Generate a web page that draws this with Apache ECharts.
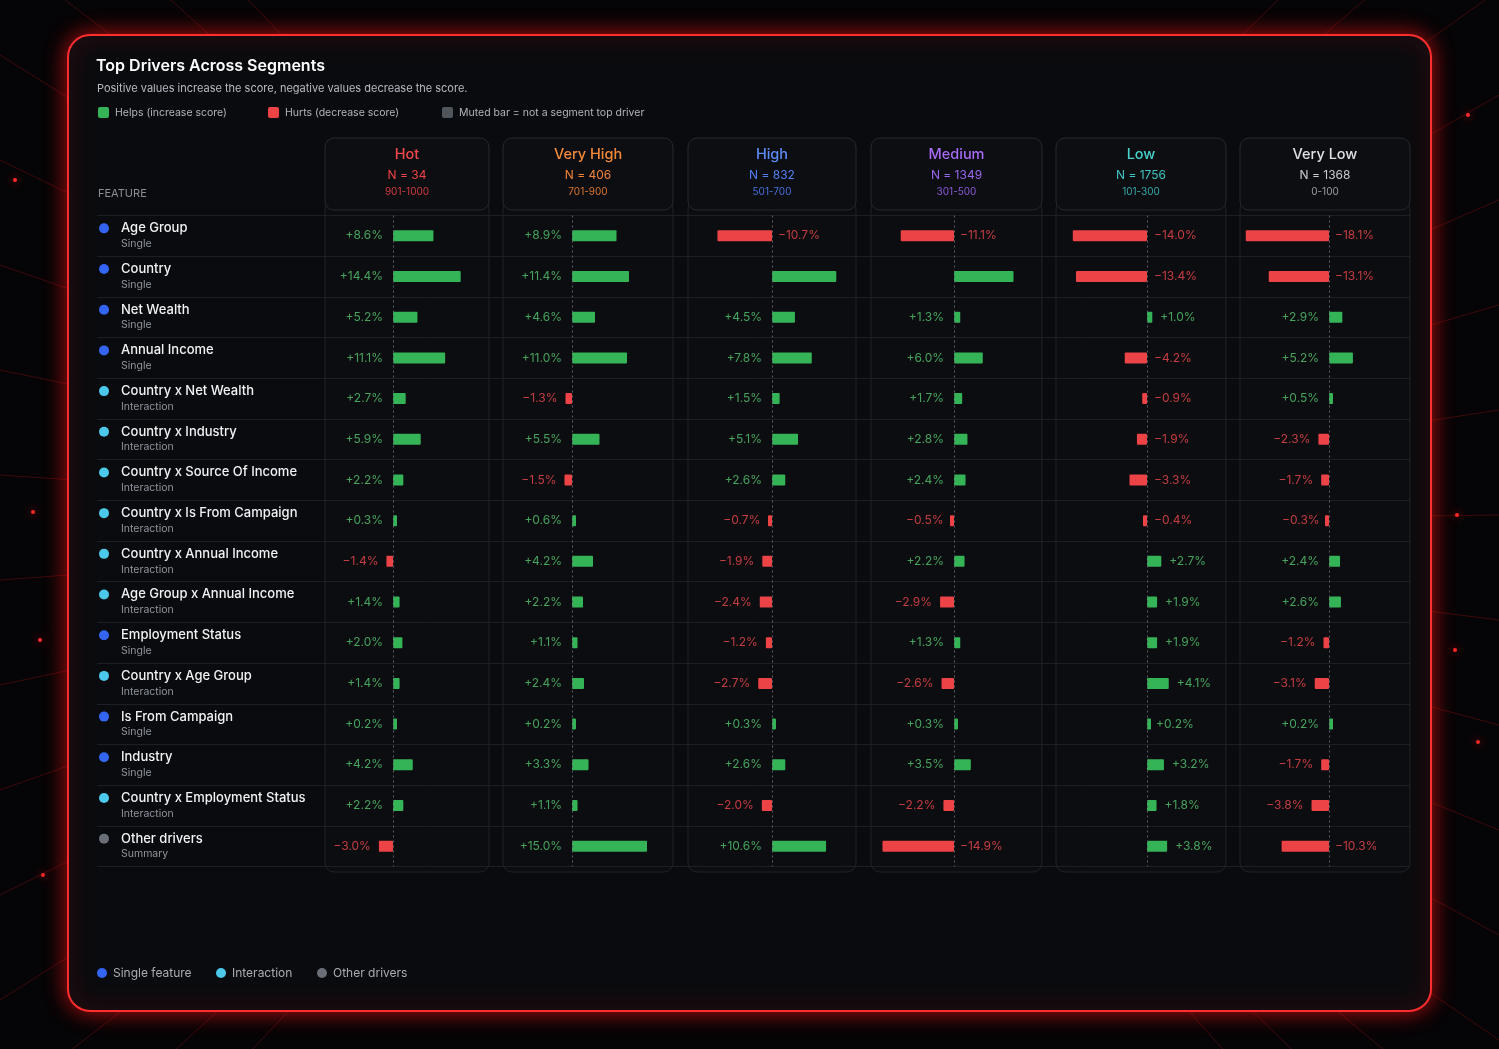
<!DOCTYPE html>
<html><head><meta charset="utf-8">
<script src="https://cdn.jsdelivr.net/npm/echarts@6/dist/echarts.min.js"></script>
<style>html,body{margin:0;padding:0;background:#050507;}#c{width:1499px;height:1049px;}</style>
</head><body><div id="c"></div>
<script>
// ---------- DATA ----------
const categories = ['Age Group','Country','Net Wealth','Annual Income','Country x Net Wealth','Country x Industry','Country x Source Of Income','Country x Is From Campaign','Country x Annual Income','Age Group x Annual Income','Employment Status','Country x Age Group','Is From Campaign','Industry','Country x Employment Status','Other drivers'];
const featureTypes = ['Single','Single','Single','Single','Interaction','Interaction','Interaction','Interaction','Interaction','Interaction','Single','Interaction','Single','Single','Interaction','Summary'];
const segmentNames = ['Hot','Very High','High','Medium','Low','Very Low'];
const segmentN = [34, 406, 832, 1349, 1756, 1368];
const segmentRanges = ['901-1000','701-900','501-700','301-500','101-300','0-100'];
const hot      = [8.6, 14.4, 5.2, 11.1, 2.7, 5.9, 2.2, 0.3, -1.4, 1.4, 2.0, 1.4, 0.2, 4.2, 2.2, -3.0];
const veryHigh = [8.9, 11.4, 4.6, 11.0, -1.3, 5.5, -1.5, 0.6, 4.2, 2.2, 1.1, 2.4, 0.2, 3.3, 1.1, 15.0];
const high     = [-10.7, 12.6, 4.5, 7.8, 1.5, 5.1, 2.6, -0.7, -1.9, -2.4, -1.2, -2.7, 0.3, 2.6, -2.0, 10.6];
const medium   = [-11.1, 12.4, 1.3, 6.0, 1.7, 2.8, 2.4, -0.5, 2.2, -2.9, 1.3, -2.6, 0.3, 3.5, -2.2, -14.9];
const low      = [-14.0, -13.4, 1.0, -4.2, -0.9, -1.9, -3.3, -0.4, 2.7, 1.9, 1.9, 4.1, 0.2, 3.2, 1.8, 3.8];
const veryLow  = [-18.1, -13.1, 2.9, 5.2, 0.5, -2.3, -1.7, -0.3, 2.4, 2.6, -1.2, -3.1, 0.2, -1.7, -3.8, -10.3];
const unlabeledCells = [[2, 1], [3, 1]]; // [segment, row] shown without value text
const segmentValues = [hot, veryHigh, high, medium, low, veryLow];

// ---------- LAYOUT / STYLE ----------
const colLeft  = [325, 503, 688, 871, 1056, 1240];
const colRight = [489, 673, 856, 1042, 1226, 1410];
const colZero  = [393, 572, 772, 954, 1147, 1329];
const colScale = [4.7, 5.0, 5.1, 4.8, 5.3, 4.6];
const headColors = [
  ['#f2474c','#ee4449','#cf3b40'],
  ['#f68a3a','#f2843a','#dc7630'],
  ['#5b8df8','#4f80f2','#4670dc'],
  ['#a66cf6','#9b66ef','#8a5ad8'],
  ['#48d2cd','#40c4c1','#35aaa8'],
  ['#dfe1e5','#c9ccd2','#9a9ea6']
];
const GREEN = '#34b457', RED = '#ec4347';
const LGREEN = '#55c870', LRED = '#f04a4f';
const kindColor = {Single:'#3464f2', Interaction:'#4cc9ea', Summary:'#6a6e76'};
const FONT = 'Inter, "Noto Sans", sans-serif';
const TOP = 215.5, GH = 651;

const chart = echarts.init(document.getElementById('c'), null, {renderer:'canvas'});

const grids = [], xAxes = [], yAxes = [], series = [];

// background table grid (row lines + feature labels)
grids.push({left: 97, width: 1410 - 97, top: TOP, height: GH});
xAxes.push({gridIndex: 0, type: 'value', show: false, min: 0, max: 1});
yAxes.push({
  gridIndex: 0, type: 'category', data: categories, inverse: true,
  axisLine: {show: false}, axisTick: {show: false},
  splitLine: {show: true, lineStyle: {color: '#1c1f24', width: 1}},
  axisLabel: {
    show: true, inside: true, margin: 2, interval: 0,
    formatter: (v, i) => {
      const t = featureTypes[i];
      return '{d' + t + '|}{gap|}{name|' + v + '}\n{sp|}{type|' + t + '}';
    },
    rich: {
      dSingle: {width: 10, height: 10, borderRadius: 5, backgroundColor: kindColor.Single},
      dInteraction: {width: 10, height: 10, borderRadius: 5, backgroundColor: kindColor.Interaction},
      dSummary: {width: 10, height: 10, borderRadius: 5, backgroundColor: kindColor.Summary},
      gap: {width: 12},
      sp: {width: 22},
      name: {fontFamily: FONT, fontSize: 13, color: '#f1f2f4', fontWeight: 500, lineHeight: 16},
      type: {fontFamily: FONT, fontSize: 10.5, color: '#8f949d', lineHeight: 15}
    }
  }
});
series.push({type: 'scatter', xAxisIndex: 0, yAxisIndex: 0, data: [], silent: true});

segmentValues.forEach((vals, ci) => {
  const gi = ci + 1;
  const min = -(colZero[ci] - colLeft[ci]) / colScale[ci];
  const max = (colRight[ci] - colZero[ci]) / colScale[ci];
  grids.push({left: colLeft[ci], width: colRight[ci] - colLeft[ci], top: TOP, height: GH});
  xAxes.push({gridIndex: gi, type: 'value', min: min, max: max, show: false});
  yAxes.push({gridIndex: gi, type: 'category', data: categories, inverse: true, show: false});
  series.push({
    type: 'bar', xAxisIndex: gi, yAxisIndex: gi, barWidth: 11, barMinHeight: 4, silent: true,
    data: vals,
    itemStyle: {color: p => p.value >= 0 ? GREEN : RED, borderRadius: 1},
    markLine: {
      silent: true, symbol: 'none', label: {show: false},
      lineStyle: {color: '#5b5f67', type: [2, 3], width: 1},
      data: [{xAxis: 0}]
    }
  });
  const lab = [];
  vals.forEach((v, ri) => {
    if (unlabeledCells.some(c => c[0] === ci && c[1] === ri)) return;
    let x, pos, dist;
    if (ci === 4) {
      if (v >= 0) { x = v; pos = 'right'; dist = 8; } else { x = 0; pos = 'right'; dist = 7; }
    } else {
      if (v >= 0) { x = 0; pos = 'left'; dist = 10; }
      else if (v <= -8) { x = 0; pos = 'right'; dist = 6; }
      else { x = v; pos = 'left'; dist = 8; }
    }
    const txt = (v > 0 ? '+' : (v < 0 ? '\u2212' : '')) + Math.abs(v).toFixed(1) + '%';
    lab.push({value: [x, ri], label: {show: true, position: pos, distance: dist, formatter: txt,
      color: v >= 0 ? LGREEN : LRED, fontFamily: FONT, fontSize: 12}});
  });
  series.push({type: 'scatter', xAxisIndex: gi, yAxisIndex: gi, symbolSize: 0, silent: true, data: lab, z: 5});
});

// ---------- GRAPHICS ----------
const g = [];
// background rays
const cx = 750, cy = 525;
for (let k = 0; k < 16; k++) {
  const yy = -260 + k * 105;
  g.push({type: 'line', z: -30, silent: true, shape: {x1: cx, y1: cy, x2: 0, y2: yy},
    style: {stroke: 'rgba(210,25,25,0.28)', lineWidth: 1}});
  g.push({type: 'line', z: -30, silent: true, shape: {x1: cx, y1: cy, x2: 1499, y2: yy + 40},
    style: {stroke: 'rgba(210,25,25,0.28)', lineWidth: 1}});
}
[[1468,115],[1457,515],[1455,650],[1478,742],[33,512],[43,875],[40,640],[15,180]].forEach(p => {
  g.push({type: 'circle', z: -29, silent: true, shape: {cx: p[0], cy: p[1], r: 2},
    style: {fill: '#ff2a2a', shadowBlur: 8, shadowColor: '#ff0000'}});
});
// card
g.push({type: 'rect', z: -20, silent: true, shape: {x: 68, y: 35, width: 1363, height: 976, r: 22},
  style: {fill: '#0a0b0e', stroke: '#ff2d2d', lineWidth: 2, shadowBlur: 22, shadowColor: 'rgba(255,20,20,0.7)'}});
// titles
g.push({type: 'text', z: 10, silent: true, style: {x: 96, y: 66, text: 'Top Drivers Across Segments', fill: '#ffffff',
  font: '600 16px ' + FONT, textVerticalAlign: 'middle'}});
g.push({type: 'text', z: 10, silent: true, style: {x: 97, y: 89, text: 'Positive values increase the score, negative values decrease the score.',
  fill: '#b7bbc3', font: '11px ' + FONT, textVerticalAlign: 'middle'}});
const topLegend = [[98, GREEN, 'Helps (increase score)'], [268, RED, 'Hurts (decrease score)'], [442, '#50545b', 'Muted bar = not a segment top driver']];
topLegend.forEach(it => {
  g.push({type: 'rect', z: 10, silent: true, shape: {x: it[0], y: 107, width: 11, height: 11, r: 2}, style: {fill: it[1]}});
  g.push({type: 'text', z: 10, silent: true, style: {x: it[0] + 17, y: 113, text: it[2], fill: '#b1b5bc',
    font: '10.5px ' + FONT, textVerticalAlign: 'middle'}});
});
g.push({type: 'text', z: 10, silent: true, style: {x: 98, y: 194, text: 'FEATURE', fill: '#888d96',
  font: '11px ' + FONT, textVerticalAlign: 'middle'}});
// column boxes + headers
segmentNames.forEach((nm, ci) => {
  const l = colLeft[ci], w = colRight[ci] - colLeft[ci], c = (colLeft[ci] + colRight[ci]) / 2;
  g.push({type: 'rect', z: -15, silent: true, shape: {x: l, y: 200, width: w, height: 672, r: 9},
    style: {fill: '#0c0d10', stroke: '#1f2227', lineWidth: 1}});
  g.push({type: 'rect', z: -14, silent: true, shape: {x: l, y: 138, width: w, height: 72, r: 9},
    style: {fill: '#0d0e11', stroke: '#262930', lineWidth: 1}});
  const hc = headColors[ci];
  g.push({type: 'text', z: 10, silent: true, style: {x: c, y: 155, text: nm, fill: hc[0], font: '500 14.5px ' + FONT,
    textAlign: 'center', textVerticalAlign: 'middle'}});
  g.push({type: 'text', z: 10, silent: true, style: {x: c, y: 175, text: 'N = ' + segmentN[ci], fill: hc[1], font: '12px ' + FONT,
    textAlign: 'center', textVerticalAlign: 'middle'}});
  g.push({type: 'text', z: 10, silent: true, style: {x: c, y: 192, text: segmentRanges[ci], fill: hc[2], font: '10px ' + FONT,
    textAlign: 'center', textVerticalAlign: 'middle'}});
});
// bottom legend
const botLegend = [[102, kindColor.Single, 'Single feature'], [221, kindColor.Interaction, 'Interaction'], [322, kindColor.Summary, 'Other drivers']];
botLegend.forEach(it => {
  g.push({type: 'circle', z: 10, silent: true, shape: {cx: it[0], cy: 973, r: 5}, style: {fill: it[1]}});
  g.push({type: 'text', z: 10, silent: true, style: {x: it[0] + 11, y: 973, text: it[2], fill: '#a9adb4',
    font: '12px ' + FONT, textVerticalAlign: 'middle'}});
});

chart.setOption({
  backgroundColor: '#050507',
  animation: false,
  grid: grids, xAxis: xAxes, yAxis: yAxes, series: series,
  graphic: {elements: g}
});
</script></body></html>
